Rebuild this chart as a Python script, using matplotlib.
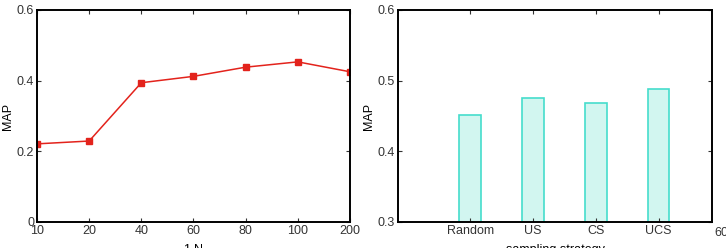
import matplotlib.pyplot as plt
import numpy as np

plt.rcParams["font.family"] = ["Liberation Sans", "DejaVu Sans"]
plt.rcParams["font.size"] = 9

# left panel: MAP vs N
n_labels = ["10", "20", "40", "60", "80", "100", "200"]
map_n = [0.221, 0.229, 0.394, 0.412, 0.438, 0.453, 0.425]

# right panel: MAP per sampling strategy
strategies = ["Random", "US", "CS", "UCS"]
map_strategy = [0.452, 0.476, 0.468, 0.488]

fig = plt.figure(figsize=(7.26, 2.48), dpi=100)
ax1 = fig.add_axes([0.051, 0.105, 0.431, 0.855])
ax2 = fig.add_axes([0.548, 0.105, 0.433, 0.855])

x = np.arange(len(n_labels))
ax1.plot(x, map_n, color="#e3231c", lw=1.1, marker="s", ms=4)
ax1.set_xlim(0, len(n_labels) - 1)
ax1.set_ylim(0, 0.6)
ax1.set_xticks(x)
ax1.set_xticklabels(n_labels)
ax1.set_yticks([0, 0.2, 0.4, 0.6])
ax1.set_yticklabels(["0", "0.2", "0.4", "0.6"])
ax1.set_ylabel("MAP", labelpad=2)
ax1.set_xlabel("1-N", labelpad=5)

xs = np.arange(1, len(strategies) + 1)
ax2.bar(xs, map_strategy, width=0.345, bottom=0, color="#d2f6f0",
        edgecolor="#45ddcc", lw=1.2)
ax2.set_xlim(-0.153, 4.855)
ax2.set_ylim(0.3, 0.6)
ax2.set_xticks(xs)
ax2.set_xticklabels(strategies)
ax2.set_yticks([0.3, 0.4, 0.5, 0.6])
ax2.set_ylabel("MAP", labelpad=2)
ax2.set_xlabel("sampling strategy", labelpad=5)
ax2.text(1.028, -0.025, "60", transform=ax2.transAxes, ha="center", va="top",
         color="#333333")

for ax in (ax1, ax2):
    for s in ax.spines.values():
        s.set_linewidth(1.4)
    ax.tick_params(direction="in", top=True, right=True, length=3, width=0.8,
                   colors="#333333", labelcolor="#333333", pad=2)

fig.savefig("out.png", dpi=100)
